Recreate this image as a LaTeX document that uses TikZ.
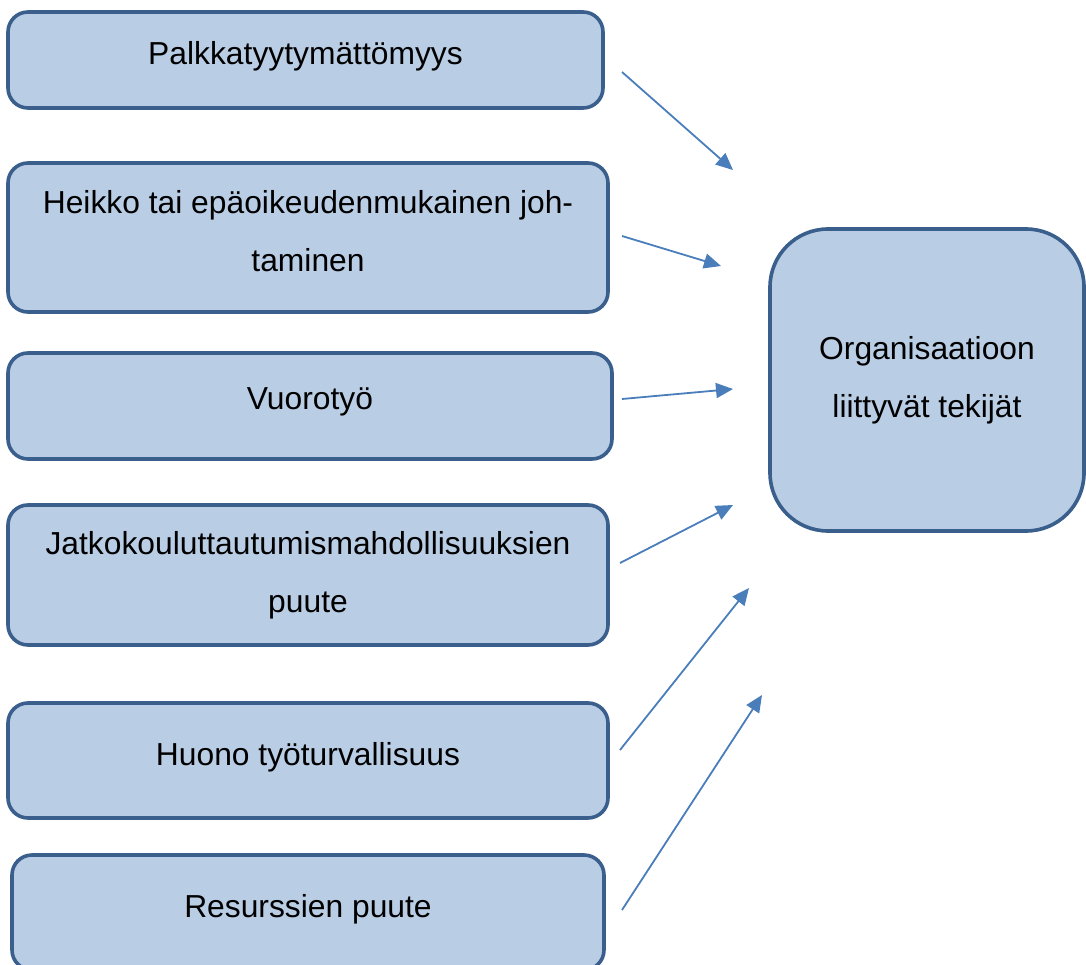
\documentclass[tikz,border=0pt]{standalone}
\usepackage{fontspec}
\setmainfont{Liberation Sans}
\usetikzlibrary{arrows.meta}
\definecolor{boxfill}{HTML}{B9CDE5}
\definecolor{boxline}{HTML}{3A5F8C}
\definecolor{arrowblue}{HTML}{4A7EBB}
\begin{document}
\begin{tikzpicture}[x=1pt,y=-1pt,
  basebox/.style={draw=boxline, fill=boxfill, line width=3.6pt, rounded corners=20pt,
    align=center, inner sep=0pt, font=\fontsize{31.8}{58}\selectfont},
  factor/.style={basebox, text depth=14pt},
  mainbox/.style={basebox, rounded corners=58pt},
  link/.style={draw=arrowblue, line width=1.8pt, -{Triangle[length=17pt,width=15pt]}}]
  \useasboundingbox (0,0) rectangle (1086,965);

  % cause boxes on the left
  \node[factor, minimum width=595pt, minimum height=96pt]  (pay)   at (305.5,60)  {Palkkatyytymättömyys};
  \node[factor, minimum width=600pt, minimum height=149pt] (lead)  at (308,237.5) {Heikko tai epäoikeudenmukainen joh-\\taminen};
  \node[factor, minimum width=604pt, minimum height=106pt] (shift) at (310,406)   {Vuorotyö};
  \node[basebox, minimum width=600pt, minimum height=140pt] (edu)  at (308,575)   {Jatkokouluttautumismahdollisuuksien\\puute};
  \node[factor, minimum width=600pt, minimum height=115pt] (safe)  at (308,760.5) {Huono työturvallisuus};
  \node[factor, minimum width=592pt, minimum height=115pt] (res)   at (308,912.5) {Resurssien puute};

  % summary box on the right
  \node[mainbox, minimum width=314pt, minimum height=302pt] (org) at (927,380) {Organisaatioon\\liittyvät tekijät};

  % free-standing arrow ends
  \coordinate (s1) at (622,72);   \coordinate (e1) at (733,170);
  \coordinate (s2) at (622,236);  \coordinate (e2) at (721,266);
  \coordinate (s3) at (622,399);  \coordinate (e3) at (733,389);
  \coordinate (s4) at (620,563);  \coordinate (e4) at (733,505);
  \coordinate (s5) at (620,750);  \coordinate (e5) at (749,588);
  \coordinate (s6) at (622,910);  \coordinate (e6) at (762,695);

  \draw[link] (s1) -- (e1);
  \draw[link] (s2) -- (e2);
  \draw[link] (s3) -- (e3);
  \draw[link] (s4) -- (e4);
  \draw[link] (s5) -- (e5);
  \draw[link] (s6) -- (e6);
\end{tikzpicture}
\end{document}
